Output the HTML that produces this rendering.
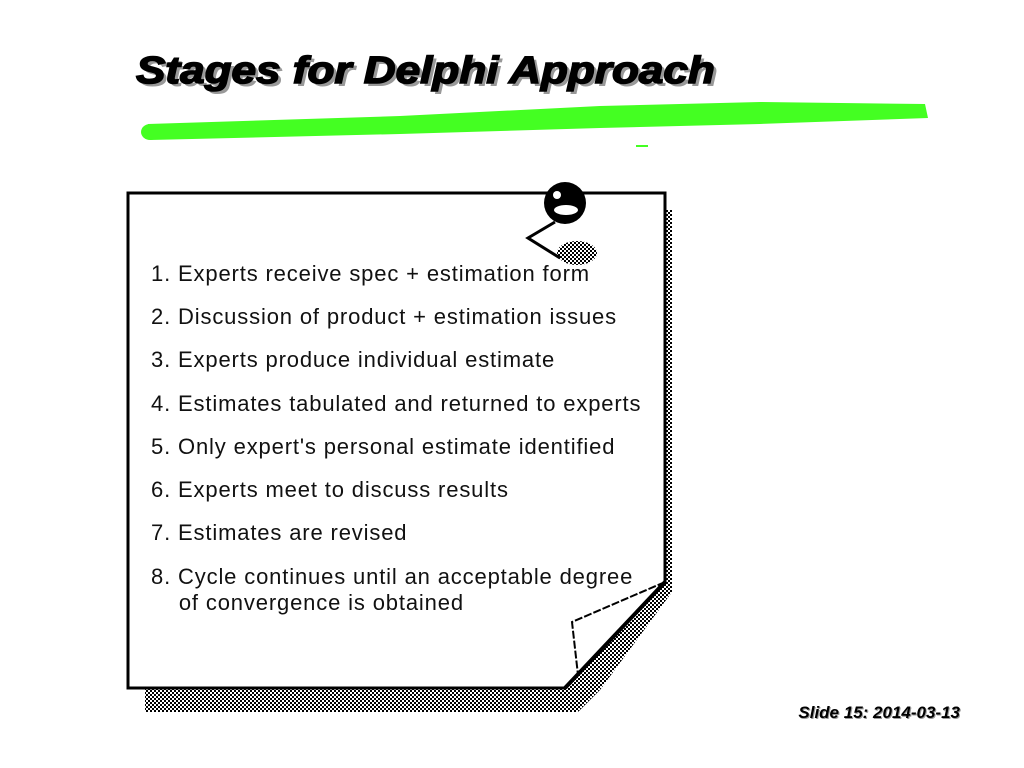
<!DOCTYPE html>
<html><head><style>
body{margin:0;width:1024px;height:768px;background:#fff;overflow:hidden;position:relative;font-family:"Liberation Sans",sans-serif}
.t{position:absolute;left:136px;top:50px;font:italic 900 38px "Liberation Sans",sans-serif;color:#000;text-shadow:3px 3px 0 #999;-webkit-text-stroke:1.5px #000;transform:scaleX(1.16);transform-origin:0 0;white-space:nowrap}
.l{position:absolute;left:151px;font-size:22px;letter-spacing:0.85px;color:#111;line-height:26px;white-space:nowrap}
.s{position:absolute;right:64px;top:703px;font:italic bold 17px "Liberation Sans",sans-serif;color:#000;text-shadow:1px 1px 0 #999}
</style></head><body>
<svg width="1024" height="768" style="position:absolute;left:0;top:0">
<defs><pattern id="c" width="4" height="4" patternUnits="userSpaceOnUse"><rect width="2" height="2" fill="#000"/><rect x="2" y="2" width="2" height="2" fill="#000"/></pattern></defs>
<path d="M148,124 L400,116 L600,106 L760,102 L925,104 L928,118 L760,124 L600,128 L400,134 L150,140 Z" fill="#44ff22"/>
<ellipse cx="150" cy="132" rx="9" ry="8" fill="#44ff22"/>
<rect x="636" y="145" width="12" height="2" fill="#44ff22"/>
<path d="M665,210 L672,210 L672,592 L600,690 L578,712 L145,712 L145,688 L565,688 L665,582 Z" fill="url(#c)"/>
<path d="M128,193 L665,193 L665,582 L565,688 L128,688 Z" fill="#fff" stroke="#000" stroke-width="3"/>
<path d="M665,582 L572,622 L578,675" fill="none" stroke="#000" stroke-width="2" stroke-dasharray="8,2"/>
<path d="M665,582 L565,688" stroke="#000" stroke-width="4"/>
<path d="M555,222 L528,238 L560,258" fill="none" stroke="#000" stroke-width="3"/>
<ellipse cx="577" cy="253" rx="20" ry="12" fill="url(#c)"/>
<circle cx="565" cy="203" r="21" fill="#000"/>
<ellipse cx="566" cy="210" rx="12" ry="5" fill="#fff"/>
<circle cx="557" cy="195" r="4" fill="#fff"/>
</svg>
<div class="t">Stages for Delphi Approach</div>
<div class="l" style="top:261px">1. Experts receive spec + estimation form</div>
<div class="l" style="top:304px">2. Discussion of product + estimation issues</div>
<div class="l" style="top:347px">3. Experts produce individual estimate</div>
<div class="l" style="top:391px">4. Estimates tabulated and returned to experts</div>
<div class="l" style="top:434px">5. Only expert's personal estimate identified</div>
<div class="l" style="top:477px">6. Experts meet to discuss results</div>
<div class="l" style="top:520px">7. Estimates are revised</div>
<div class="l" style="top:564px">8. Cycle continues until an acceptable degree<br>&nbsp;&nbsp;&nbsp;&nbsp;of convergence is obtained</div>
<div class="s">Slide 15: 2014-03-13</div>
</body></html>
